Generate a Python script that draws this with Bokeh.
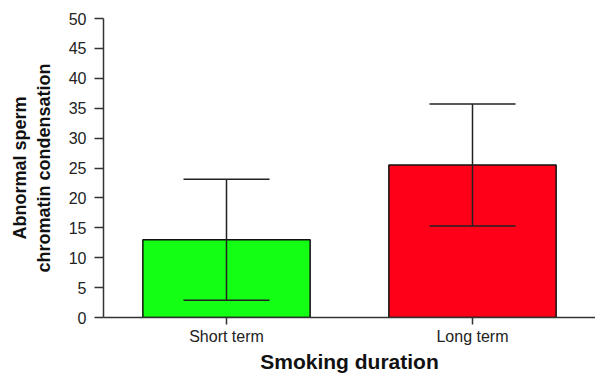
from bokeh.plotting import figure
from bokeh.models import ColumnDataSource, Whisker, TeeHead, FixedTicker, Range1d
from bokeh.embed import file_html
from bokeh.resources import INLINE

categories = ["Short term", "Long term"]
means = [13.0, 25.5]
errors = [10.1, 10.2]
colors = ["#13ff13", "#ff0019"]

src = ColumnDataSource(dict(
    cat=categories,
    mean=means,
    upper=[m + e for m, e in zip(means, errors)],
    lower=[m - e for m, e in zip(means, errors)],
    color=colors,
))

p = figure(x_range=categories, y_range=Range1d(0, 50), width=595, height=375,
           output_backend="svg", toolbar_location=None,
           min_border_left=103, min_border_right=0, min_border_top=18, min_border_bottom=10)
p.outline_line_color = None
p.xgrid.grid_line_color = None
p.ygrid.grid_line_color = None
p.x_range.range_padding = 0.0

p.vbar(x="cat", top="mean", width=0.68, source=src, fill_color="color",
       line_color="#111111", line_width=1.5)

up = TeeHead(size=86, line_color="#222222", line_width=1.5)
lo = TeeHead(size=86, line_color="#222222", line_width=1.5)
w = Whisker(base="cat", upper="upper", lower="lower", source=src, level="overlay",
            upper_head=up, lower_head=lo, line_color="#222222", line_width=1.5)
p.add_layout(w)

p.yaxis.ticker = FixedTicker(ticks=list(range(0, 51, 5)))
p.yaxis.minor_tick_line_color = None
p.yaxis.major_tick_out = 9
p.yaxis.major_tick_in = 0
p.yaxis.major_tick_line_width = 1.5
p.yaxis.major_tick_line_color = "#333333"
p.yaxis.axis_line_width = 1.5
p.yaxis.axis_line_color = "#333333"
p.yaxis.major_label_text_font = "Liberation Sans"
p.yaxis.major_label_text_font_size = "16px"
p.yaxis.major_label_text_color = "#222222"
p.yaxis.major_label_standoff = 8
p.yaxis.axis_label = "Abnormal sperm\nchromatin condensation"
p.yaxis.axis_label_text_font = "Liberation Sans"
p.yaxis.axis_label_text_font_style = "bold"
p.yaxis.axis_label_text_font_size = "18px"
p.yaxis.axis_label_text_color = "#111111"
p.yaxis.axis_label_standoff = 12

p.xaxis.axis_line_width = 1.5
p.xaxis.axis_line_color = "#333333"
p.xaxis.major_tick_out = 7
p.xaxis.major_tick_in = 0
p.xaxis.major_tick_line_width = 1.5
p.xaxis.major_tick_line_color = "#333333"
p.xaxis.major_label_text_font = "Liberation Sans"
p.xaxis.major_label_text_font_size = "16px"
p.xaxis.major_label_text_color = "#222222"
p.xaxis.major_label_standoff = 3
p.xaxis.axis_label = "Smoking duration"
p.xaxis.axis_label_text_font = "Liberation Sans"
p.xaxis.axis_label_text_font_style = "bold"
p.xaxis.axis_label_text_font_size = "21px"
p.xaxis.axis_label_text_color = "#111111"
p.xaxis.axis_label_standoff = 2

open("out.html", "w").write(file_html(p, INLINE))
